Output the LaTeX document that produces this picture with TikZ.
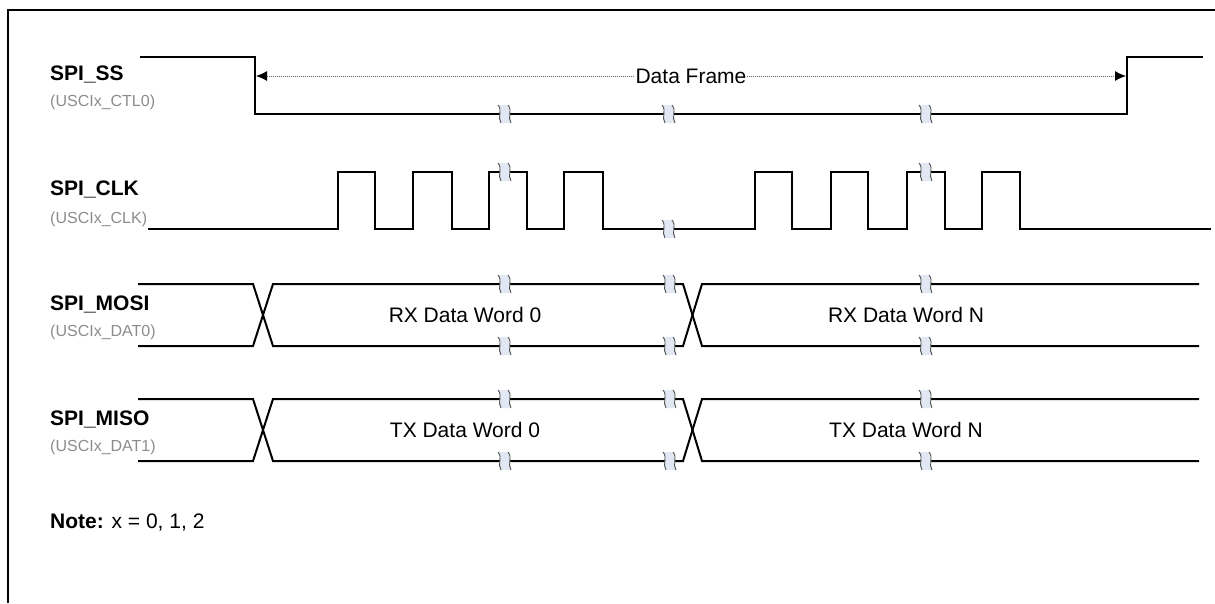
\documentclass[tikz,border=0pt]{standalone}
\usepackage{fontspec}
\setmainfont{Liberation Sans}
\usetikzlibrary{arrows.meta,positioning}
\definecolor{brkblue}{HTML}{E1E8F3}
\definecolor{brkedge}{HTML}{505050}
\definecolor{labelgray}{HTML}{8C8C8C}
\tikzset{
  wave/.style={line width=2pt},
  signame/.style={anchor=base west, inner sep=0pt, font=\fontsize{21}{21}\selectfont\bfseries},
  regname/.style={anchor=base west, inner sep=0pt, text=labelgray, font=\fontsize{16}{16}\selectfont},
  wordlabel/.style={inner sep=0pt, font=\fontsize{21}{21}\selectfont},
  framearrow/.style={{Latex[length=11pt,width=10pt,black]}-{Latex[length=11pt,width=10pt,black]}, densely dotted, draw=gray!80!black, line width=1pt},
  brk/.pic={
    \fill[brkblue] (-7,-9) .. controls (-2,-3) and (-8,3) .. (-4,9) -- (6,9) .. controls (2,3) and (8,-3) .. (3,-9) -- cycle;
    \draw[brkedge, line width=0.9pt] (-7,-9) .. controls (-2,-3) and (-8,3) .. (-4,9);
    \draw[brkedge, line width=0.9pt] (3,-9) .. controls (8,-3) and (2,3) .. (6,9);
  }
}

\begin{document}
\begin{tikzpicture}[x=1pt, y=-1pt]
\useasboundingbox (0,0) rectangle (1215,603);
\draw[line width=2.7pt] (8,603) -- (8,10) -- (1215,10);
% signal names
\node[signame] (ss) at (50,80) {SPI\_SS};
\node[regname] (ssreg) at (50,106) {(USCIx\_CTL0)};
\node[signame] (clk) at (50,195) {SPI\_CLK};
\node[regname] (clkreg) at (50,223) {(USCIx\_CLK)};
\node[signame] (mosi) at (50,310) {SPI\_MOSI};
\node[regname] (mosireg) at (50,336) {(USCIx\_DAT0)};
\node[signame] (miso) at (50,425) {SPI\_MISO};
\node[regname] (misoreg) at (50,451) {(USCIx\_DAT1)};
\node[wordlabel, anchor=base west] (note) at (50,528) {\textbf{Note:} x = 0, 1, 2};
% SPI_SS
\draw[wave] (140,57) -- (255,57) -- (255,114) -- (1127,114) -- (1127,57) -- (1203,57);
\coordinate (frmstart) at (256,76);
\coordinate (frmend) at (1126,76);
\draw[framearrow] (frmstart) -- node[wordlabel, fill=white, inner sep=1pt] (frm) {Data Frame} (frmend);
% SPI_CLK
\draw[wave] (148,229) -- (338,229) -- (338,172) -- (375,172) -- (375,229) -- (413,229) -- (413,172) -- (452,172) -- (452,229)
  -- (489,229) -- (489,172) -- (527,172) -- (527,229) -- (564,229) -- (564,172) -- (603,172) -- (603,229)
  -- (755,229) -- (755,172) -- (792,172) -- (792,229) -- (831,229) -- (831,172) -- (868,172) -- (868,229)
  -- (907,229) -- (907,172) -- (945,172) -- (945,229) -- (982,229) -- (982,172) -- (1020,172) -- (1020,229) -- (1211,229);
% SPI_MOSI
\draw[wave] (138,284) -- (253,284) -- (273,346) -- (683,346) -- (702,284) -- (1199,284);
\draw[wave] (138,346) -- (253,346) -- (273,284) -- (683,284) -- (702,346) -- (1199,346);
\node[wordlabel] (rx0) at (465,315) {RX Data Word 0};
\node[wordlabel] (rxn) at (906,315) {RX Data Word N};
% SPI_MISO
\draw[wave] (138,399) -- (253,399) -- (273,461) -- (683,461) -- (702,399) -- (1199,399);
\draw[wave] (138,461) -- (253,461) -- (273,399) -- (683,399) -- (702,461) -- (1199,461);
\node[wordlabel] (tx0) at (465,430) {TX Data Word 0};
\node[wordlabel] (txn) at (906,430) {TX Data Word N};
% breaks
\pic at (505,114) {brk};
\pic at (669,114) {brk};
\pic at (926,114) {brk};
\pic at (505,172) {brk};
\pic at (669,229) {brk};
\pic at (926,172) {brk};
\pic at (505,284) {brk};
\pic at (505,346) {brk};
\pic at (670,284) {brk};
\pic at (670,346) {brk};
\pic at (926,284) {brk};
\pic at (926,346) {brk};
\pic at (505,399) {brk};
\pic at (505,461) {brk};
\pic at (670,399) {brk};
\pic at (670,461) {brk};
\pic at (926,399) {brk};
\pic at (926,461) {brk};
\end{tikzpicture}
\end{document}
